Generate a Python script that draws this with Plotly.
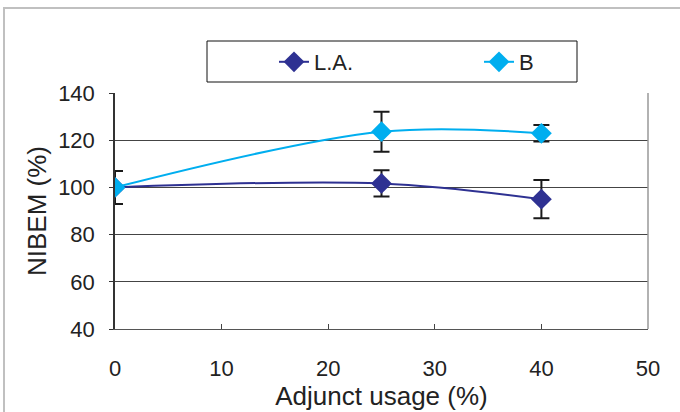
import plotly.graph_objects as go

x_vals = [0, 25, 40]
la_vals = [100, 101.7, 95.0]
la_err = [7, 5.6, 8.1]
b_vals = [100, 123.6, 122.9]
b_err = [0, 8.5, 3.5]

x_ticks = [0, 10, 20, 30, 40, 50]
y_ticks = [40, 60, 80, 100, 120, 140]

FONT = "Liberation Sans, Arial, sans-serif"

fig = go.Figure()
fig.add_trace(go.Scatter(
    x=x_vals, y=la_vals, name="L.A.", mode="lines+markers",
    line=dict(color="#2E3192", width=2, shape="spline", smoothing=1),
    marker=dict(symbol="diamond", size=16, color="#2E3192"),
    error_y=dict(type="data", array=la_err, color="#1a1a1a", thickness=2, width=8),
))
fig.add_trace(go.Scatter(
    x=x_vals, y=b_vals, name="B", mode="lines+markers",
    line=dict(color="#00AEEF", width=2, shape="spline", smoothing=1),
    marker=dict(symbol="diamond", size=16, color="#00AEEF"),
    error_y=dict(type="data", array=b_err, color="#1a1a1a", thickness=2, width=8),
))

# plot area: x 115..648, y 93..329
PW, PH = 533, 236
def px(x):
    return (x - 115) / PW
def py(y):
    return (329 - y) / PH

fig.update_layout(
    width=680, height=412,
    margin=dict(l=115, r=32, t=93, b=83, autoexpand=False),
    paper_bgcolor="white", plot_bgcolor="white",
    font=dict(family=FONT, size=22, color="#222"),
    showlegend=True,
    legend=dict(
        orientation="h", x=px(274), y=py(62), xanchor="left", yanchor="middle",
        borderwidth=0, bgcolor="rgba(0,0,0,0)",
        font=dict(size=22), entrywidth=160, entrywidthmode="pixels",
    ),
    xaxis=dict(
        range=[0, 50], tickvals=x_ticks, ticks="inside", ticklen=5,
        tickcolor="#444", showline=True, linecolor="#555", linewidth=1,
        mirror=False, showgrid=False, zeroline=False,
        title=dict(text="Adjunct usage (%)", standoff=6),
        tickfont=dict(size=22), ticklabelstandoff=20,
    ),
    yaxis=dict(
        range=[40, 140], tickvals=y_ticks, ticks="outside", ticklen=4,
        tickcolor="#333", showline=True, linecolor="#333", linewidth=1.5,
        showgrid=True, gridcolor="#444", gridwidth=1, zeroline=False,
        title=dict(text="NIBEM (%)", standoff=4),
        tickfont=dict(size=22), ticklabelstandoff=10,
    ),
    shapes=[
        dict(type="line", xref="paper", yref="paper", x0=1, x1=1, y0=0, y1=1,
             line=dict(color="#999", width=1.5)),
        dict(type="rect", xref="paper", yref="paper", x0=px(4), x1=px(700),
             y0=py(430), y1=py(8), line=dict(color="#c0c0c0", width=2)),
        dict(type="rect", xref="paper", yref="paper", x0=px(207), x1=px(577),
             y0=py(82), y1=py(41), line=dict(color="#111", width=1)),
    ],
)

fig.write_html("out.html")
